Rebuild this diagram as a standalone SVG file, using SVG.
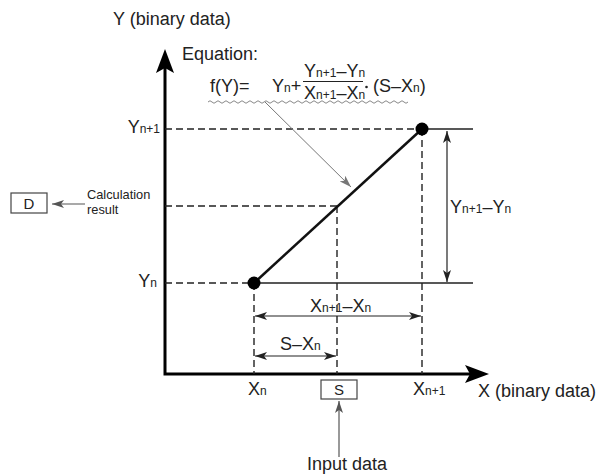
<svg xmlns="http://www.w3.org/2000/svg" width="597" height="475" viewBox="0 0 597 475">
<style>
text{font-family:"Liberation Sans",Arial,sans-serif;fill:#222}
.big{font-size:18px}
.sm{font-size:12.8px}
.sub{font-size:12px}
.dash{stroke:#222;stroke-width:1.4;stroke-dasharray:7 4;fill:none}
.solid{stroke:#222;stroke-width:1.4;fill:none}
.dim{stroke:#222;stroke-width:1.2;fill:none;marker-start:url(#ah);marker-end:url(#ah)}
.axis{stroke:#000;stroke-width:3;fill:none}
.box{fill:#fff;stroke:#444;stroke-width:1.2}
.gray{stroke:#555;stroke-width:1.2;fill:none;marker-end:url(#ahg)}
</style>
<defs>
<marker id="ah" viewBox="0 0 12 8" refX="12" refY="4" markerWidth="12" markerHeight="8" markerUnits="userSpaceOnUse" orient="auto-start-reverse"><path d="M0,0 L12,4 L0,8 L3,4 Z" fill="#222"/></marker>
<marker id="ahg" viewBox="0 0 12 8" refX="12" refY="4" markerWidth="12" markerHeight="8" markerUnits="userSpaceOnUse" orient="auto"><path d="M0,0 L12,4 L0,8 L3,4 Z" fill="#555"/></marker>
<marker id="ahl" viewBox="0 0 12 8" refX="12" refY="4" markerWidth="12" markerHeight="8" markerUnits="userSpaceOnUse" orient="auto"><path d="M0,0 L12,4 L0,8 L3,4 Z" fill="#777"/></marker>
</defs>
<rect width="597" height="475" fill="#fff"/>

<g id="axes">
<path class="axis" d="M165,66 V374 H470"/>
<path d="M165,49 L174,73 L165,68 L156,73 Z" fill="#000"/>
<path d="M489,374 L465,365 L470,374 L465,383 Z" fill="#000"/>
<text class="big" x="113" y="25">Y (binary data)</text>
<text class="big" x="478" y="397">X (binary data)</text>
</g>

<g id="guides">
<path class="dash" d="M165,129 H422 M165,206 H337 M165,283 H254 M254,283 V374 M337,206 V374 M422,129 V374"/>
<path class="solid" d="M422,129 H473 M254,283 H473"/>
</g>

<g id="curve">
<line x1="254" y1="283" x2="422" y2="129" stroke="#111" stroke-width="2.5"/>
<circle cx="254" cy="283" r="6.5" fill="#000"/>
<circle cx="422" cy="129" r="6.5" fill="#000"/>
</g>

<g id="axis-labels">
<text class="big" x="160" y="133" text-anchor="end">Y<tspan class="sub">n+1</tspan></text>
<text class="big" x="157" y="287" text-anchor="end">Y<tspan class="sub">n</tspan></text>
<text class="big" x="248" y="395">X<tspan class="sub">n</tspan></text>
<text class="big" x="413" y="395">X<tspan class="sub">n+1</tspan></text>
</g>

<g id="equation">
<text class="big" x="182" y="60">Equation:</text>
<text class="big" x="210" y="92">f(Y)=</text>
<text class="big" x="272" y="92">Y<tspan class="sub">n</tspan>+</text>
<text class="big" x="304" y="77">Y<tspan class="sub">n+1</tspan>–Y<tspan class="sub">n</tspan></text>
<line x1="303" y1="81.5" x2="363" y2="81.5" stroke="#222" stroke-width="1"/>
<text class="big" x="304" y="99">X<tspan class="sub">n+1</tspan>–X<tspan class="sub">n</tspan></text>
<circle cx="366.5" cy="87" r="1.3" fill="#222"/>
<text class="big" x="373" y="92">(S–X<tspan class="sub">n</tspan>)</text>
<path d="M208,102 q2,-2.5 4,0 t4,0 t4,0 t4,0 t4,0 t4,0 t4,0 t4,0 t4,0 t4,0 t4,0 t4,0 t4,0 t4,0 t4,0 t4,0 t4,0 t4,0 t4,0 t4,0 t4,0 t4,0 t4,0 t4,0 t4,0 t4,0 t4,0 t4,0 t4,0 t4,0 t4,0 t4,0 t4,0 t4,0 t4,0 t4,0 t4,0 t4,0 t4,0 t4,0 t4,0 t4,0 t4,0 t4,0 t4,0 t4,0 t4,0 t4,0 t4,0 t4,0" stroke="#888" stroke-width="1" fill="none"/>
</g>

<g id="box-D">
<rect class="box" x="11" y="193" width="36" height="20"/>
<text x="29" y="208.5" text-anchor="middle" style="font-size:15px">D</text>
<text class="sm" x="87" y="199">Calculation</text>
<text class="sm" x="87" y="214">result</text>
</g>

<g id="box-S">
<rect class="box" x="321" y="380" width="36" height="19"/>
<text x="339" y="395" text-anchor="middle" style="font-size:15px">S</text>
<text class="big" x="307" y="470">Input data</text>
</g>

<g id="dimension-labels">
<text class="big" x="450" y="213">Y<tspan class="sub">n+1</tspan>–Y<tspan class="sub">n</tspan></text>
<text class="big" x="310" y="312">X<tspan class="sub">n+1</tspan>–X<tspan class="sub">n</tspan></text>
<text class="big" x="280" y="350">S–X<tspan class="sub">n</tspan></text>
</g>

<g id="connectors">
<line class="dim" x1="447" y1="131" x2="447" y2="282"/>
<line class="dim" x1="255" y1="316" x2="421" y2="316"/>
<line class="dim" x1="255" y1="356" x2="336" y2="356"/>
<line class="gray" x1="339" y1="457" x2="339" y2="401"/>
<line class="gray" x1="85" y1="204" x2="52" y2="204"/>
<line x1="265" y1="102" x2="351" y2="187" stroke="#777" stroke-width="1" marker-end="url(#ahl)"/>
</g>
</svg>
